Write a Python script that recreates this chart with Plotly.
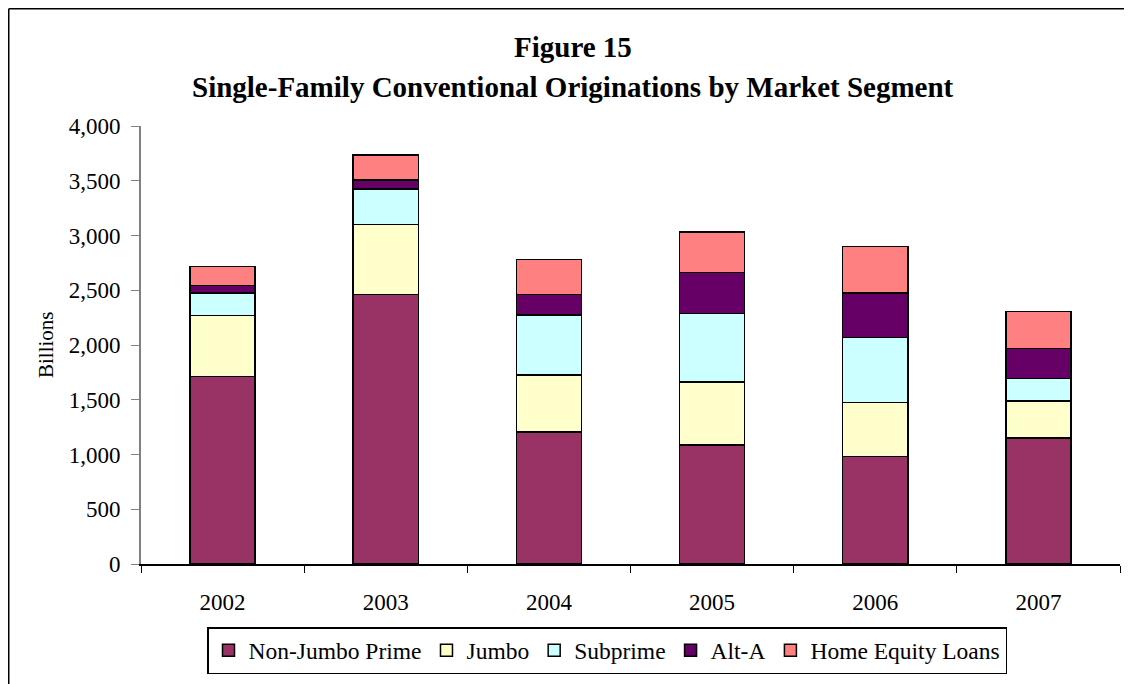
import plotly.graph_objects as go

years = ["2002", "2003", "2004", "2005", "2006", "2007"]
non_jumbo_prime = [1711, 2462, 1204, 1085, 982, 1152]
jumbo = [560, 639, 523, 575, 492, 338]
subprime = [204, 322, 547, 626, 593, 203]
alt_a = [70, 82, 188, 374, 408, 274]
home_equity = [171, 228, 320, 374, 425, 337]

series = [
    ("Non-Jumbo Prime", non_jumbo_prime, "#993366"),
    ("Jumbo", jumbo, "#FFFFCC"),
    ("Subprime", subprime, "#CCFFFF"),
    ("Alt-A", alt_a, "#660066"),
    ("Home Equity Loans", home_equity, "#FF8080"),
]

OFF = 8  # page body margin
W, H = 1132 - OFF, 684 - OFF
# plot area in page pixels: x 141..1120, y 126..564
L, T = 141 - OFF, 126 - OFF
R = (OFF + W) - 1120
B = (OFF + H) - 564
PW, PH = W - L - R, H - T - B

def px(x):
    return (x - OFF - L) / PW

def py(y):
    return (H - B - (y - OFF)) / PH

FONT = "Liberation Serif, Times New Roman, serif"

fig = go.Figure()
for name, vals, col in series:
    fig.add_trace(go.Bar(
        x=years, y=vals, name=name,
        marker=dict(color=col, line=dict(color="black", width=1.5)),
    ))

fig.update_layout(
    width=W, height=H,
    margin=dict(l=L, r=R, t=T, b=B, autoexpand=False),
    barmode="stack", bargap=0.6,
    plot_bgcolor="white", paper_bgcolor="white",
    font=dict(family=FONT, size=23, color="black"),
    showlegend=True,
    legend=dict(
        orientation="h", traceorder="normal",
        x=px(607), xanchor="center", y=py(627), yanchor="top",
        bordercolor="black", borderwidth=1.5,
        font=dict(family=FONT, size=23.5, color="black"),
        itemclick=False,
    ),
    xaxis=dict(
        type="category", tickson="boundaries", ticks="outside", ticklen=7,
        tickcolor="black", showline=True, linecolor="black", linewidth=1.5,
        showgrid=False, tickfont=dict(size=23), ticklabelstandoff=17,
    ),
    yaxis=dict(
        range=[0, 4000], dtick=500, tickformat=",", ticks="outside", ticklen=8,
        tickcolor="#808080", showline=True, linecolor="#808080", linewidth=2,
        showgrid=False, zeroline=False, tickfont=dict(size=23), ticklabelstandoff=6,
    ),
    annotations=[
        dict(text="<b>Figure 15</b>", xref="paper", yref="paper",
             x=px(573), y=py(47), xanchor="center", yanchor="middle",
             showarrow=False, font=dict(family=FONT, size=29, color="black")),
        dict(text="<b>Single-Family Conventional Originations by Market Segment</b>",
             xref="paper", yref="paper",
             x=px(573), y=py(87), xanchor="center", yanchor="middle",
             showarrow=False, font=dict(family=FONT, size=29, color="black")),
        dict(text="Billions", xref="paper", yref="paper",
             x=px(46), y=py(345), xanchor="center", yanchor="middle",
             textangle=-90, showarrow=False,
             font=dict(family=FONT, size=21, color="black")),
    ],
    shapes=[
        dict(type="line", xref="paper", yref="paper",
             x0=px(8.75), x1=px(1140), y0=py(8.75), y1=py(8.75),
             line=dict(color="black", width=1.5), layer="above"),
        dict(type="line", xref="paper", yref="paper",
             x0=px(8.75), x1=px(8.75), y0=py(8.75), y1=py(700),
             line=dict(color="black", width=1.5), layer="above"),
    ],
)

fig.write_html(
    "out.html",
    post_script="document.documentElement.style.overflow='hidden';"
                "document.body.style.overflow='hidden';",
)
